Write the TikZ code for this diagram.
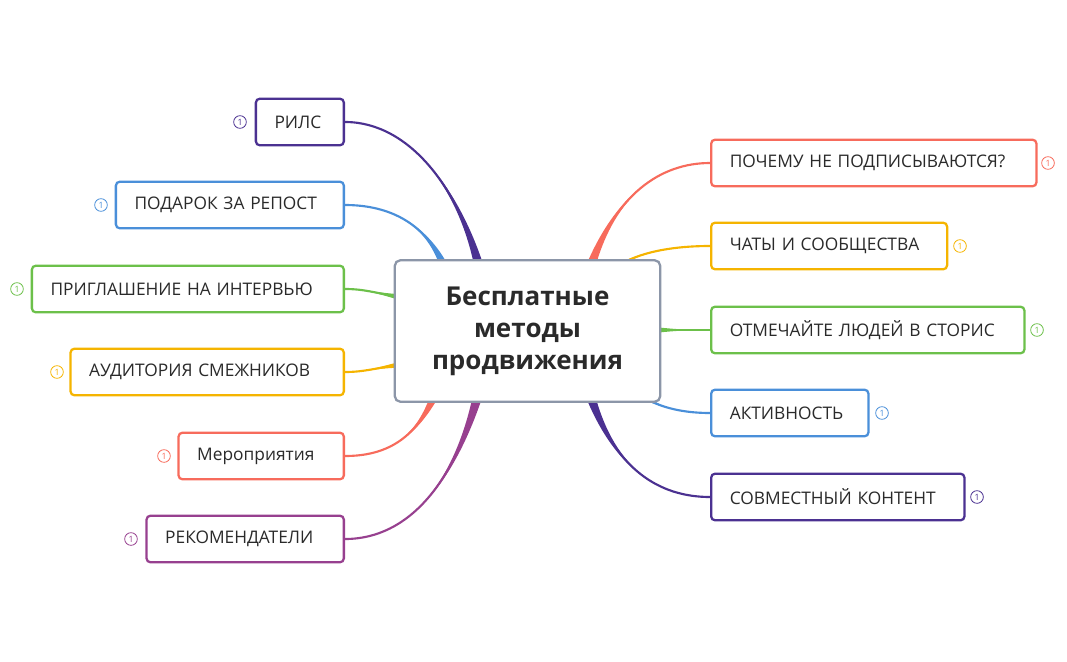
\documentclass[tikz,border=0pt]{standalone}
\usepackage{fontspec}
\setmainfont{Open Sans}
\usetikzlibrary{calc}
\definecolor{cpur}{HTML}{4B3191}
\definecolor{cblu}{HTML}{4A8FD9}
\definecolor{cgrn}{HTML}{6CC04A}
\definecolor{cyel}{HTML}{F5B400}
\definecolor{cred}{HTML}{F76B5C}
\definecolor{cmag}{HTML}{97408F}
\definecolor{cgray}{HTML}{8C96A8}
\definecolor{ctxt}{HTML}{2A2A2A}
\tikzset{
  leaf/.style 2 args={draw=#1, line width=1.7pt, rounded corners=3pt, fill=white, minimum height=35pt, inner xsep=14pt, text width=#2-28pt, align=left, font=\fontsize{13}{15}\selectfont, text=ctxt},
  badge/.style={draw=#1, circle, line width=0.6pt, inner sep=0pt, minimum size=9.5pt, font=\fontsize{6.5}{7}\selectfont, text=#1},
  conn/.style={draw=#1, line width=1.6pt}
}
\newcommand{\branch}[7]{% color, start, dx, dy, c1, c2, end
  \fill[#1] ($(#2)+(#3,#4)$) .. controls #5 and #6 .. (#7) .. controls #6 and #5 .. ($(#2)-(#3,#4)$) -- cycle;
  \draw[conn=#1] (#2) .. controls #5 and #6 .. (#7);
}
\begin{document}
\begin{tikzpicture}[x=0.75pt,y=-0.75pt]
\useasboundingbox (0,0) rectangle (1067,661);
\pgfdeclarelayer{bg}\pgfsetlayers{bg,main}
% center
\node[draw=cgray, line width=1.7pt, rounded corners=4pt, fill=white, minimum width=199pt, minimum height=106pt, align=center, font=\fontsize{19.5}{24}\bfseries\selectfont, text=ctxt] (c) at (527.5,331) {Бесплатные\\методы\\продвижения};
% leaves left
\node[leaf={cpur}{66pt}, anchor=east] (l1) at (345,122) {РИЛС};
\node[leaf={cblu}{171pt}, anchor=east] (l2) at (345,205) {ПОДАРОК ЗА РЕПОСТ};
\node[leaf={cgrn}{234pt}, anchor=east] (l3) at (345,289) {ПРИГЛАШЕНИЕ НА ИНТЕРВЬЮ};
\node[leaf={cyel}{205pt}, anchor=east] (l4) at (345,372) {АУДИТОРИЯ СМЕЖНИКОВ};
\node[leaf={cred}{124pt}, anchor=east] (l5) at (345,456) {Мероприятия};
\node[leaf={cmag}{148pt}, anchor=east] (l6) at (345,539) {РЕКОМЕНДАТЕЛИ};
% leaves right
\node[leaf={cred}{244pt}, anchor=west] (r1) at (710,163) {ПОЧЕМУ НЕ ПОДПИСЫВАЮТСЯ?};
\node[leaf={cyel}{177pt}, anchor=west] (r2) at (710,246) {ЧАТЫ И СООБЩЕСТВА};
\node[leaf={cgrn}{235pt}, anchor=west] (r3) at (710,330) {ОТМЕЧАЙТЕ ЛЮДЕЙ В СТОРИС};
\node[leaf={cblu}{118pt}, anchor=west] (r4) at (710,413) {АКТИВНОСТЬ};
\node[leaf={cpur}{190pt}, anchor=west] (r5) at (710,497) {СОВМЕСТНЫЙ КОНТЕНТ};
% badges
\node[badge=cpur] (b1) at (240,122) {1};
\node[badge=cblu] (b2) at (101,205) {1};
\node[badge=cgrn] (b3) at (17,289) {1};
\node[badge=cyel] (b4) at (57,372) {1};
\node[badge=cred] (b5) at (164,456) {1};
\node[badge=cmag] (b6) at (131,539) {1};
\node[badge=cred] (b7) at (1048,163) {1};
\node[badge=cyel] (b8) at (960,246) {1};
\node[badge=cgrn] (b9) at (1037,330) {1};
\node[badge=cblu] (b10) at (882,413) {1};
\node[badge=cpur] (b11) at (977,497) {1};
% start coordinates
\coordinate (s1) at (480,270);
\coordinate (s2) at (445,268);
\coordinate (s3) at (405,298);
\coordinate (s4) at (405,364);
\coordinate (s5) at (435,395);
\coordinate (s6) at (478,395);
\coordinate (s7) at (590,268);
\coordinate (s8) at (615,268);
\coordinate (s9) at (650,330);
\coordinate (s10) at (645,398);
\coordinate (s11) at (590,395);
\begin{pgfonlayer}{bg}
\branch{cpur}{s1}{5}{0}{(460,190)}{(410,122)}{l1.east}
\branch{cblu}{s2}{4.5}{0}{(425,220)}{(385,205)}{l2.east}
\branch{cgrn}{s3}{0}{3.5}{(375,293)}{(365,289)}{l3.east}
\branch{cyel}{s4}{0}{3.5}{(375,368)}{(365,372)}{l4.east}
\branch{cred}{s5}{4.5}{0}{(415,440)}{(385,456)}{l5.east}
\branch{cmag}{s6}{5}{0}{(455,480)}{(410,539)}{l6.east}
\branch{cred}{s7}{5}{0}{(615,195)}{(660,163)}{r1.west}
\branch{cyel}{s8}{4.5}{0}{(640,250)}{(680,246)}{r2.west}
\branch{cgrn}{s9}{0}{3.5}{(680,330)}{(695,330)}{r3.west}
\branch{cblu}{s10}{4.5}{0}{(665,410)}{(690,413)}{r4.west}
\branch{cpur}{s11}{5}{0}{(615,470)}{(660,497)}{r5.west}
\end{pgfonlayer}
\end{tikzpicture}
\end{document}
